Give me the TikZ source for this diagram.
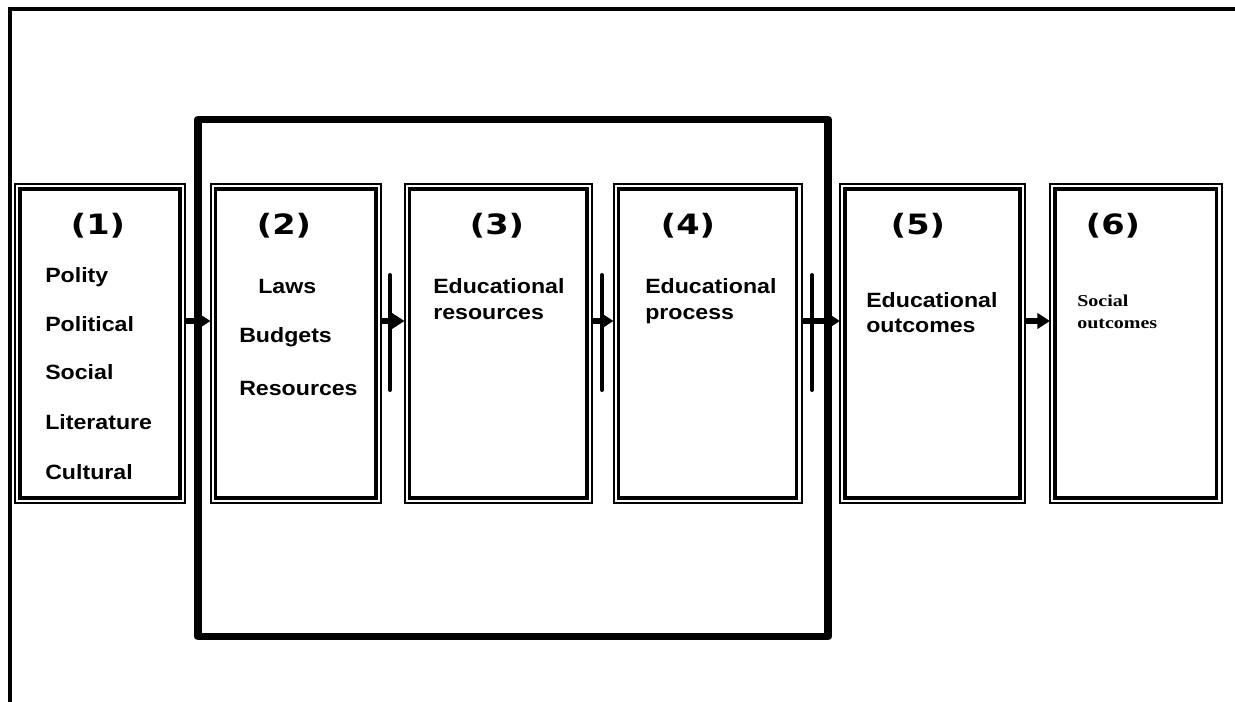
\documentclass[tikz,border=0pt]{standalone}
\usepackage{fontspec}
\usetikzlibrary{arrows.meta,fit}
\newfontfamily\numfont[FakeStretch=1.2]{DejaVu Sans}
\newfontfamily\labfont[FakeStretch=1.12]{Liberation Sans}
\newfontfamily\serfont[FakeStretch=1.2]{Liberation Serif}
\tikzset{
  stage/.style={draw, line width=1.5pt, inner sep=0pt, outer sep=0pt},
  stagein/.style={line width=2.3pt},
  num/.style={anchor=base, inner sep=0pt, font=\numfont\bfseries\fontsize{21}{21}\selectfont},
  lab/.style={anchor=base west, inner sep=0pt, font=\labfont\bfseries\fontsize{15.5}{15.5}\selectfont},
  serlab/.style={anchor=base west, inner sep=0pt, font=\serfont\bfseries\fontsize{12.5}{12.5}\selectfont},
  arr/.style={line width=4pt, -{Triangle[length=9.5pt,width=11.5pt]}},
  bar/.style={line width=3pt, line cap=round},
  frame/.style={line width=3pt},
  group/.style={line width=5.8pt, line join=round}
}
\begin{document}
\begin{tikzpicture}[x=0.75pt,y=-0.75pt]
\useasboundingbox (0,0) rectangle (1235,702);
% open outer frame: top and left edges only
\draw[frame] (10,712) -- (10,9.5) -- (1245,9.5);
% grouping box round stages 2 to 4
\draw[group] (198,119.5) rectangle (828,636.5);
% the six stages, each with a double border
\node[stage, fit={(15,184) (185,503)}] (b1) {};
\node[stage, fit={(210.5,184) (381,503)}] (b2) {};
\node[stage, fit={(404.5,184) (592,503)}] (b3) {};
\node[stage, fit={(613.5,184) (801.5,503)}] (b4) {};
\node[stage, fit={(840,184) (1025,503)}] (b5) {};
\node[stage, fit={(1050,184) (1221.5,503)}] (b6) {};
\foreach \b in {b1,b2,b3,b4,b5,b6}
  \draw[stagein] ([shift={(5,5)}]\b.north west) rectangle ([shift={(-5,-5)}]\b.south east);
% stage numbers
\node[num] (n1) at (98,235) {(1)};
\node[num] (n2) at (284,235) {(2)};
\node[num] (n3) at (497,235) {(3)};
\node[num] (n4) at (688,235) {(4)};
\node[num] (n5) at (918,235) {(5)};
\node[num] (n6) at (1113,235) {(6)};
% stage contents
\node[lab] (p1) at (45,282) {Polity};
\node[lab] (p2) at (45,331) {Political};
\node[lab] (p3) at (45,379) {Social};
\node[lab] (p4) at (45,429) {Literature};
\node[lab] (p5) at (45,479) {Cultural};
\node[lab] (l1) at (258,294) {Laws};
\node[lab] (l2) at (239,343) {Budgets};
\node[lab] (l3) at (239,395) {Resources};
\node[lab] (r1) at (433,294) {Educational};
\node[lab] (r2) at (433,320) {resources};
\node[lab] (q1) at (645,294) {Educational};
\node[lab] (q2) at (645,320) {process};
\node[lab] (o1) at (866,307) {Educational};
\node[lab] (o2) at (866,333) {outcomes};
\node[serlab] (s1) at (1077,306) {Social};
\node[serlab] (s2) at (1077,329) {outcomes};
% barriers between stages
\draw[bar] (390,275) -- (390,390);
\draw[bar] (602,275) -- (602,390);
\draw[bar] (812,275) -- (812,390);
% flow arrows
\coordinate (ay) at (0,321);
\draw[arr] (b1.east |- ay) -- (b2.west |- ay);
\draw[arr] (b2.east |- ay) -- (b3.west |- ay);
\draw[arr] (b3.east |- ay) -- (b4.west |- ay);
\draw[arr] (b4.east |- ay) -- (b5.west |- ay);
\draw[arr] (b5.east |- ay) -- (b6.west |- ay);
\end{tikzpicture}
\end{document}
